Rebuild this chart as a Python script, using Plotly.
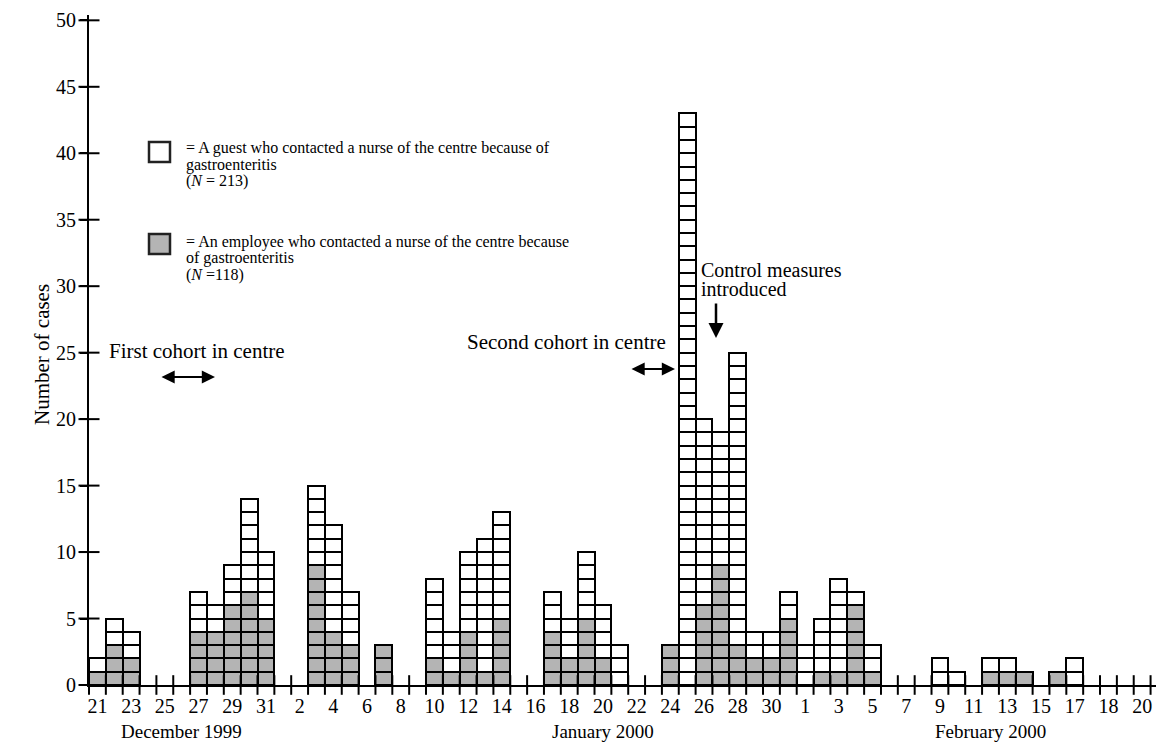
import plotly.graph_objects as go

# ---- data (one entry per day, 21 Dec 1999 -> 20 Feb 2000) ----
day_names = (["Dec %d" % d for d in range(21, 32)] +
             ["Jan %d" % d for d in range(1, 32)] +
             ["Feb %d" % d for d in range(1, 21)])

employees = [1, 3, 2, 0, 0, 0, 4, 4, 6, 7, 5,            # Dec 21-31
             0, 0, 9, 4, 3, 0, 3, 0, 0, 2, 1, 4, 1, 5, 0, 0,   # Jan 1-16
             4, 2, 5, 2, 0, 0, 0, 3, 0, 6, 9, 3, 2, 2, 5,      # Jan 17-31
             0, 1, 1, 6, 1, 0, 0, 0, 0, 0, 0, 1, 1, 1, 0, 1, 0, 0, 0, 0]  # Feb 1-20

guests = [1, 2, 2, 0, 0, 0, 3, 2, 3, 7, 5,
          0, 0, 6, 8, 4, 0, 0, 0, 0, 6, 3, 6, 10, 8, 0, 0,
          3, 3, 5, 4, 3, 0, 0, 0, 43, 14, 10, 22, 2, 2, 2,
          3, 4, 7, 1, 2, 0, 0, 0, 2, 1, 0, 1, 1, 0, 0, 0, 2, 0, 0, 0]

tick_text = ["21", "23", "25", "27", "29", "31",
             "2", "4", "6", "8", "10", "12", "14", "16", "18", "20", "22", "24", "26", "28", "30",
             "1", "3", "5", "7", "9", "11", "13", "15", "17", "18", "20"]
tick_cell = [0, 2, 4, 6, 8, 10,
             12, 14, 16, 18, 20, 22, 24, 26, 28, 30, 32, 34, 36, 38, 40,
             42, 44, 46, 48, 50, 52, 54, 56, 58, 60, 62]

month_labels = ["December 1999", "January 2000", "February 2000"]
month_cell = [5.5, 30.5, 53.5]

y_ticks = [0, 5, 10, 15, 20, 25, 30, 35, 40, 45, 50]

# ---- layout constants ----
PAGE = 8                       # default page (body) margin of the html page
W, H = 1164 - PAGE, 742 - PAGE
L, R, T, B = 89 - PAGE, 5, 15 - PAGE, 57
XMAX = 63.5
YMAX = 50.4
FONT = "Liberation Serif, Times New Roman, serif"
GRAY = "#b4b4b4"

def px(p):   # screen pixel x -> paper
    return (p - PAGE - L) / (W - L - R)

def py(p):   # screen pixel y -> paper
    return (H - B - (p - PAGE)) / (H - T - B)

# ---- build unit boxes ----
ex, eb, gx, gb = [], [], [], []
for i, (e, g) in enumerate(zip(employees, guests)):
    for k in range(e):
        ex.append(i + 0.5); eb.append(k)
    for k in range(g):
        gx.append(i + 0.5); gb.append(e + k)

fig = go.Figure()
fig.add_trace(go.Bar(x=ex, y=[1] * len(ex), base=eb, width=1,
                     marker=dict(color=GRAY, line=dict(color="black", width=2)),
                     hoverinfo="skip", showlegend=False))
fig.add_trace(go.Bar(x=gx, y=[1] * len(gx), base=gb, width=1,
                     marker=dict(color="white", line=dict(color="black", width=2)),
                     hoverinfo="skip", showlegend=False))

# crossing ticks on x axis (day boundaries)
bounds = list(range(0, len(day_names) + 2))
fig.add_trace(go.Scatter(x=bounds, y=[0] * len(bounds), mode="markers",
                         marker=dict(symbol="line-ns", size=14,
                                     line=dict(color="black", width=2)),
                         cliponaxis=False, hoverinfo="skip", showlegend=False))
# crossing ticks on y axis
fig.add_trace(go.Scatter(x=[0] * len(y_ticks), y=y_ticks, mode="markers",
                         marker=dict(symbol="line-ew", size=15,
                                     line=dict(color="black", width=2)),
                         cliponaxis=False, hoverinfo="skip", showlegend=False))

annotations = []
# month labels
for txt, c in zip(month_labels, month_cell):
    annotations.append(dict(x=c, y=py(731), xref="x", yref="paper", text=txt,
                            showarrow=False, xanchor="center", yanchor="middle",
                            font=dict(family=FONT, size=19, color="black")))
# y-axis title
annotations.append(dict(x=px(42), y=py(355), xref="paper", yref="paper",
                        text="Number of cases", textangle=-90, showarrow=False,
                        xanchor="center", yanchor="middle",
                        font=dict(family=FONT, size=21, color="black")))

# legend text
leg_lines = [
    ("= A guest who contacted a nurse of the centre because of", 148),
    ("gastroenteritis", 165),
    ("(<i>N</i> = 213)", 181),
    ("= An employee who contacted a nurse of the centre because", 242),
    ("of gastroenteritis", 258),
    ("(<i>N</i> =118)", 275),
]
for txt, yy in leg_lines:
    annotations.append(dict(x=px(184), y=py(yy), xref="paper", yref="paper",
                            text=txt, showarrow=False, xanchor="left", yanchor="middle",
                            font=dict(family=FONT, size=16, color="black")))

# text annotations
annotations.append(dict(x=px(107), y=py(351), xref="paper", yref="paper",
                        text="First cohort in centre", showarrow=False,
                        xanchor="left", yanchor="middle",
                        font=dict(family=FONT, size=21, color="black")))
annotations.append(dict(x=px(668), y=py(342), xref="paper", yref="paper",
                        text="Second cohort in centre", showarrow=False,
                        xanchor="right", yanchor="middle",
                        font=dict(family=FONT, size=21, color="black")))
annotations.append(dict(x=px(699), y=py(270), xref="paper", yref="paper",
                        text="Control measures", showarrow=False,
                        xanchor="left", yanchor="middle",
                        font=dict(family=FONT, size=20, color="black")))
annotations.append(dict(x=px(699), y=py(289), xref="paper", yref="paper",
                        text="introduced", showarrow=False,
                        xanchor="left", yanchor="middle",
                        font=dict(family=FONT, size=20, color="black")))

# arrows
annotations.append(dict(x=px(215), y=py(377), xref="paper", yref="paper",
                        ax=-55, ay=0, text="", showarrow=True,
                        arrowhead=2, arrowside="end+start", arrowsize=1.2,
                        arrowwidth=2.2, arrowcolor="black"))
annotations.append(dict(x=px(675), y=py(369), xref="paper", yref="paper",
                        ax=-45, ay=0, text="", showarrow=True,
                        arrowhead=2, arrowside="end+start", arrowsize=1.2,
                        arrowwidth=2.2, arrowcolor="black"))
annotations.append(dict(x=px(716), y=py(338), xref="paper", yref="paper",
                        ax=0, ay=-36, text="", showarrow=True,
                        arrowhead=2, arrowsize=1.2,
                        arrowwidth=2.5, arrowcolor="black"))

# legend boxes
shapes = [
    dict(type="rect", xref="paper", yref="paper",
         x0=px(149), x1=px(170), y0=py(162), y1=py(142),
         fillcolor="white", line=dict(color="#222", width=2.5)),
    dict(type="rect", xref="paper", yref="paper",
         x0=px(149), x1=px(170), y0=py(254), y1=py(234),
         fillcolor=GRAY, line=dict(color="#222", width=2.5)),
]

fig.update_layout(
    width=W, height=H,
    margin=dict(l=L, r=R, t=T, b=B, autoexpand=False),
    paper_bgcolor="white", plot_bgcolor="white",
    barmode="overlay", bargap=0,
    font=dict(family=FONT, color="black"),
    annotations=annotations, shapes=shapes,
    showlegend=False,
    xaxis=dict(range=[0, XMAX], showgrid=False, zeroline=False, automargin=False,
               showline=True, linecolor="black", linewidth=2,
               tickmode="array", tickvals=[c + 0.5 for c in tick_cell], ticktext=tick_text,
               ticks="outside", ticklen=2, tickcolor="rgba(0,0,0,0)",
               tickfont=dict(family=FONT, size=20, color="black"), fixedrange=True),
    yaxis=dict(range=[0, YMAX], showgrid=False, zeroline=False, automargin=False,
               showline=True, linecolor="black", linewidth=2,
               tickmode="array", tickvals=y_ticks,
               ticks="outside", ticklen=7, tickwidth=2, tickcolor="black",
               ticklabelstandoff=0,
               tickfont=dict(family=FONT, size=20, color="black"), fixedrange=True),
)

fig.write_html("out.html")
